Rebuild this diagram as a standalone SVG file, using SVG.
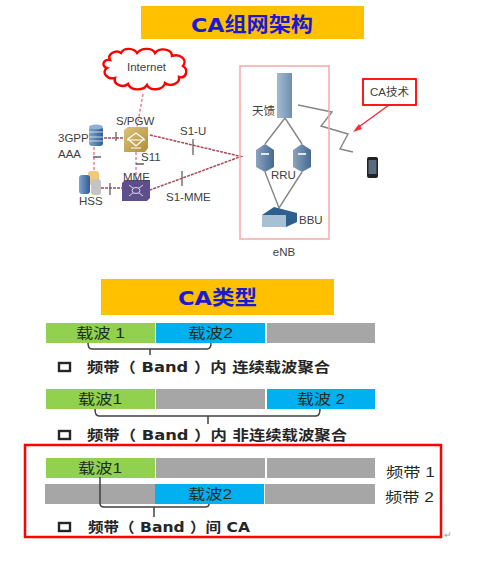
<svg xmlns="http://www.w3.org/2000/svg" width="503" height="561" viewBox="0 0 503 561">
<defs>
<style>
text{font-family:"Liberation Sans","Noto Sans CJK SC",sans-serif;fill:#404040}
.t{font-family:"DejaVu Sans","Noto Sans CJK SC",sans-serif;font-size:20px;font-weight:700;fill:#1a1ad0}
.l{font-size:11.5px}
.c{font-size:14px;fill:#1f2f1f}
.b{font-family:"DejaVu Sans","Noto Sans CJK SC",sans-serif;font-size:14px;font-weight:700;fill:#262626}
.g{fill:#a6a6a6}.gr{fill:#92d050}.bl{fill:#00b0f0}
.br{fill:none;stroke:#404040;stroke-width:1.5}
.dash{fill:none;stroke:#a84a58;stroke-width:1.5;stroke-dasharray:3 1}
.pink{fill:none;stroke:#ee7f90;stroke-width:1.5;stroke-dasharray:3 2}
.tick{stroke:#606060;stroke-width:1.3;fill:none}
.gl{fill:none;stroke:#858585;stroke-width:1.4}
.chk{fill:none;stroke:#262626;stroke-width:2.400}
</style>
<linearGradient id="rru" x1="0" x2="1" y1="0" y2="0"><stop offset="0" stop-color="#8aa3bf"/><stop offset="1" stop-color="#476a90"/></linearGradient>
<linearGradient id="ant" x1="0" x2="1" y1="0" y2="0"><stop offset="0" stop-color="#a3bbd2"/><stop offset="1" stop-color="#6f90b0"/></linearGradient>
<linearGradient id="gold" x1="0" x2="1" y1="0" y2="1"><stop offset="0" stop-color="#dcc27a"/><stop offset="1" stop-color="#b08f38"/></linearGradient>
<linearGradient id="cyl" x1="0" x2="1" y1="0" y2="0"><stop offset="0" stop-color="#7fa3cc"/><stop offset="1" stop-color="#2f5c94"/></linearGradient>
</defs>
<rect width="503" height="561" fill="#fff"/>
<g id="title-1"><rect x="141" y="6" width="223" height="33" fill="#ffc000"/><text class="t" x="191" y="32" textLength="122" lengthAdjust="spacingAndGlyphs">CA组网架构</text></g>
<g id="title-2"><rect x="101" y="279" width="233" height="36" fill="#ffc000"/><text class="t" x="178" y="305" textLength="79" lengthAdjust="spacingAndGlyphs">CA类型</text></g>
<g id="connectors">
<path class="pink" d="M143 94L137 127M94 147V170M136 152V180"/>
<path class="dash" d="M104 138H124M101 188H122M150 135L241 156.500L150 190"/>
<path class="tick" d="M116 132V141M93 157H101M136 164H144M110 183V195M193 139V155M182 171V186"/>
<path class="gl" d="M285 118L265 144M285 118L302 144M265 172L279 208L302 172M298 105L332 112L321 126L348 134L340 149L353 152"/>
<path d="M389 105L356 129" fill="none" stroke="#f03040" stroke-width="1.400"/><path d="M353 132L359 124L362 129Z" fill="#f03040"/>
</g>
<g id="internet"><path d="M110 60C107 54 116 49 121 53C124 47 134 48 137 53C141 48 152 47 155 53C160 47 172 49 172 56C180 53 188 60 183 66C189 70 186 79 179 77C180 84 170 87 165 83C163 91 150 91 147 85C143 91 131 91 128 84C123 88 113 85 115 78C107 80 101 72 107 68C101 66 103 59 110 60Z" fill="#fff" stroke="#f00" stroke-width="2.400"/><text class="l" x="146.500" y="71" text-anchor="middle">Internet</text></g>
<g id="spgw"><path d="M124 130L128 127H148V148L145 152H124Z" fill="url(#gold)"/><path d="M128 139L136 133L144 139L136 146Z" fill="none" stroke="#fff" stroke-width="1.200"/><path d="M127 140H145M131 148H141" stroke="#fff" fill="none"/><text class="l" x="116" y="125">S/PGW</text></g>
<g id="aaa"><rect x="89" y="127" width="14" height="19" rx="3" fill="url(#cyl)"/><ellipse cx="96" cy="127" rx="7" ry="2.500" fill="#8fb0d4"/><path d="M89 132H103M89 137H103M89 141H103" stroke="#fff" stroke-width=".7"/><text class="l" x="58" y="142">3GPP</text><text class="l" x="58" y="158">AAA</text></g>
<g id="hss"><rect x="88" y="171" width="11" height="14" rx="3" fill="#f0c878"/><rect x="79" y="175" width="11" height="19" rx="3" fill="url(#cyl)"/><rect x="91" y="179" width="10" height="16" rx="3" fill="#c4c4c4"/><text class="l" x="79" y="205">HSS</text></g>
<g id="mme"><path d="M122 183L125 180H150V198L147 201H122Z" fill="#5e4e8c"/><path d="M129 185L143 196M143 185L129 196" stroke="#dcd8ee" fill="none"/><ellipse cx="136" cy="190.500" rx="4" ry="3" fill="#5e4e8c" stroke="#dcd8ee"/><text class="l" x="123" y="181">MME</text></g>
<g id="labels-core"><text class="l" x="141" y="161">S11</text><text class="l" x="180" y="135">S1-U</text><text class="l" x="166" y="201">S1-MME</text></g>
<g id="enb"><rect x="240" y="66" width="89" height="173" fill="none" stroke="#f7a8a8" stroke-width="1.500"/><text class="l" x="284" y="256" text-anchor="middle">eNB</text></g>
<g id="antenna"><rect x="277" y="73" width="15" height="45" fill="url(#ant)"/><text class="l" x="252" y="115">天馈</text></g>
<g id="rru"><path d="M256 150L265 144L274 150V167L265 172L256 167Z" fill="url(#rru)"/><path d="M293 150L302 144L311 150V167L302 172L293 167Z" fill="url(#rru)"/><rect x="261" y="153" width="8" height="2" fill="#dfe8f0"/><rect x="298" y="153" width="8" height="2" fill="#dfe8f0"/><text class="l" x="271" y="179">RRU</text></g>
<g id="bbu"><path d="M262 215L274 207L297 213V222L286 227H262Z" fill="#2f5f8f"/><path d="M262 215H286V227H262Z" fill="#a8c0d4"/><text class="l" x="299" y="224">BBU</text></g>
<g id="ca-tech"><rect x="363" y="79" width="53" height="26" fill="#fff" stroke="#f00" stroke-width="1.800"/><text class="l" x="389.500" y="96" text-anchor="middle">CA技术</text></g>
<g id="phone"><rect x="367" y="157" width="11" height="21" rx="2" fill="#222"/><rect x="368.500" y="160" width="8" height="14" fill="#5a6a80"/></g>
<g id="row-1"><rect class="gr" x="46" y="323" width="109" height="20"/><rect class="bl" x="156" y="323" width="109" height="20"/><rect class="g" x="267" y="323" width="108" height="20"/><text class="c" x="76" y="338" textLength="49" lengthAdjust="spacingAndGlyphs">载波 1</text><text class="c" x="188" y="338" textLength="45" lengthAdjust="spacingAndGlyphs">载波2</text><path class="br" d="M88 343Q88 349 92 349H207Q211 349 211 343M150 349V355"/><rect class="chk" x="59" y="363" width="11" height="8"/><text class="b" x="87" y="372" textLength="243" lengthAdjust="spacingAndGlyphs">频带（ Band ）内 连续载波聚合</text></g>
<g id="row-2"><rect class="gr" x="46" y="389" width="109" height="20"/><rect class="g" x="156" y="389" width="109" height="20"/><rect class="bl" x="267" y="389" width="108" height="20"/><text class="c" x="78" y="404" textLength="44" lengthAdjust="spacingAndGlyphs">载波1</text><text class="c" x="297" y="404" textLength="48" lengthAdjust="spacingAndGlyphs">载波 2</text><path class="br" d="M95 409Q95 416 99 416H316Q320 416 320 409M208 416V424"/><rect class="chk" x="59" y="431" width="11" height="8"/><text class="b" x="87" y="440" textLength="260" lengthAdjust="spacingAndGlyphs">频带（ Band ）内 非连续载波聚合</text></g>
<g id="row-3"><rect x="25" y="445" width="416" height="92" fill="none" stroke="#f00" stroke-width="2.500"/>
<rect class="gr" x="46" y="458" width="109" height="20"/><rect class="g" x="156" y="458" width="109" height="20"/><rect class="g" x="267" y="458" width="108" height="20"/>
<rect class="g" x="45" y="484" width="110" height="20"/><rect class="bl" x="155" y="484" width="109" height="20"/><rect class="g" x="265" y="484" width="110" height="20"/>
<text class="c" x="78" y="473" textLength="44" lengthAdjust="spacingAndGlyphs">载波1</text><text class="c" x="188" y="499" textLength="44" lengthAdjust="spacingAndGlyphs">载波2</text><text class="c" x="386" y="477" textLength="49" lengthAdjust="spacingAndGlyphs">频带 1</text><text class="c" x="385" y="502" textLength="49" lengthAdjust="spacingAndGlyphs">频带 2</text>
<path class="br" d="M100 477V503Q100 507 104 507H205Q209 507 209 504M154 507V517"/><rect class="chk" x="59" y="523" width="11" height="8"/><text class="b" x="88" y="532" textLength="162" lengthAdjust="spacingAndGlyphs">频带（ Band ）间 CA</text></g>
<text x="444" y="538" font-size="9" style="fill:#999">↵</text>
</svg>
